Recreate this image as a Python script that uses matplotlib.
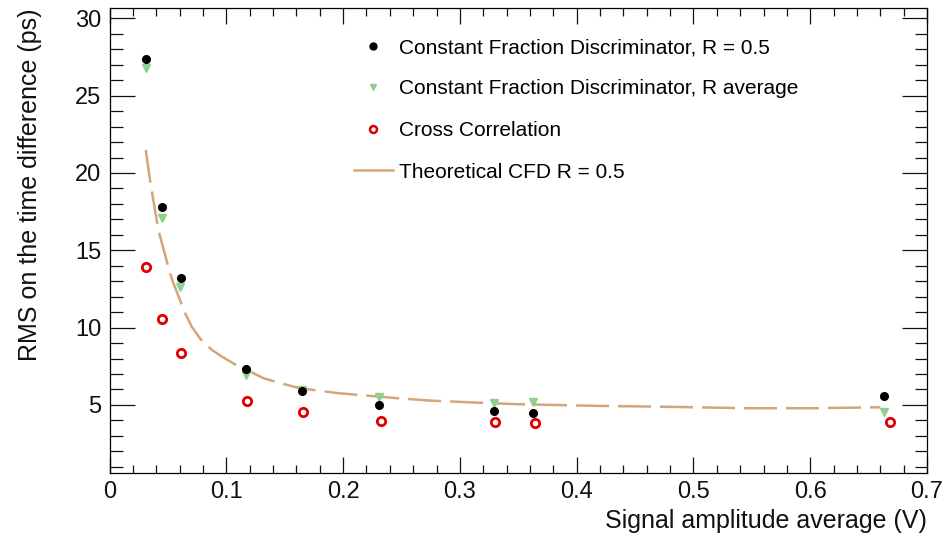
import matplotlib.pyplot as plt
from matplotlib.lines import Line2D
from matplotlib.ticker import MultipleLocator

plt.rcParams['font.family'] = ['Liberation Sans', 'DejaVu Sans']

# CFD, R = 0.5
x_cfd = [0.0313, 0.0447, 0.0608, 0.1167, 0.1652, 0.2307, 0.3295, 0.3623, 0.663]
y_cfd = [27.35, 17.78, 13.19, 7.31, 5.93, 5.02, 4.62, 4.47, 5.60]

# CFD, R average
x_avg = [0.0313, 0.0447, 0.0604, 0.1167, 0.1652, 0.2307, 0.3290, 0.3623, 0.663]
y_avg = [26.8, 17.07, 12.65, 6.94, 5.95, 5.54, 5.15, 5.22, 4.57]

# cross correlation
x_cc = [0.0313, 0.0447, 0.0613, 0.1176, 0.166, 0.2327, 0.3303, 0.364, 0.668]
y_cc = [13.94, 10.56, 8.38, 5.26, 4.53, 3.99, 3.92, 3.82, 3.88]

# theoretical curve
x_th = [0.031, 0.0353, 0.037, 0.0418, 0.0518, 0.0547, 0.0647, 0.0704, 0.078,
        0.0876, 0.0961, 0.108, 0.1204, 0.1318, 0.1461, 0.1632, 0.196, 0.246,
        0.2746, 0.3147, 0.349, 0.4175, 0.469, 0.546, 0.603, 0.660]
y_th = [21.49, 19.22, 18.47, 16.32, 13.52, 12.87, 10.93, 10.06, 9.25,
        8.56, 8.13, 7.6, 7.16, 6.73, 6.41, 6.08, 5.76, 5.44,
        5.28, 5.15, 5.05, 4.94, 4.89, 4.79, 4.79, 4.85]

fig = plt.figure(figsize=(9.45, 5.4), dpi=100)
ax = fig.add_axes([0.1159, 0.1241, 0.8651, 0.8605])

line_col = '#d2a679'
th, = ax.plot(x_th, y_th, color=line_col, lw=1.8, zorder=1)
th.set_dashes((13.2, 3.6))
ax.plot(x_avg, y_avg, 'v', color='#8fd08f', ms=5.5, mec='#8fd08f', zorder=2)
ax.plot(x_cfd, y_cfd, 'o', color='black', ms=5.5, zorder=3)
ax.plot(x_cc, y_cc, 'o', mfc='white', mec='#dd0000', mew=2.0, ms=6, zorder=3)

ax.set_xlim(0, 0.7)
ax.set_ylim(0.6, 30.65)
ax.xaxis.set_major_locator(MultipleLocator(0.1))
ax.xaxis.set_minor_locator(MultipleLocator(0.02))
ax.yaxis.set_major_locator(MultipleLocator(5))
ax.yaxis.set_minor_locator(MultipleLocator(1))
ax.set_yticks([5, 10, 15, 20, 25, 30])
ax.set_xticks([0, 0.1, 0.2, 0.3, 0.4, 0.5, 0.6, 0.7])
ax.set_xticklabels(['0', '0.1', '0.2', '0.3', '0.4', '0.5', '0.6', '0.7'])

ax.tick_params(axis='both', which='both', direction='in', top=True, right=True,
               width=0.9, labelsize=17, colors='#111111', pad=6)
ax.tick_params(axis='x', which='major', length=11.5)
ax.tick_params(axis='x', which='minor', length=6)
ax.tick_params(axis='y', which='major', length=18)
ax.tick_params(axis='y', which='minor', length=9)
for sp in ax.spines.values():
    sp.set_linewidth(0.9)

ax.set_xlabel('Signal amplitude average (V)', fontsize=18, loc='right', color='#111111')
ax.set_ylabel('RMS on the time difference (ps)', fontsize=18, loc='top', color='#111111')
ax.xaxis.set_label_coords(1.0, -0.078)
ax.yaxis.set_label_coords(-0.083, 1.0)

handles = [
    Line2D([], [], ls='none', marker='o', color='black', ms=5),
    Line2D([], [], ls='none', marker='v', color='#8fd08f', ms=5),
    Line2D([], [], ls='none', marker='o', mfc='white', mec='#dd0000', mew=1.8, ms=5),
    Line2D([], [], color=line_col, lw=1.8),
]
labels = ['Constant Fraction Discriminator, R = 0.5',
          'Constant Fraction Discriminator, R average',
          'Cross Correlation',
          'Theoretical CFD R = 0.5']
ax.legend(handles, labels, loc='upper left', bbox_to_anchor=(354 / 945, 1 - 38 / 540),
          bbox_transform=fig.transFigure, frameon=False, fontsize=15, borderpad=0,
          borderaxespad=0, handlelength=1.85, handletextpad=0.3, labelspacing=1.08)

fig.savefig('out.png', dpi=100)
